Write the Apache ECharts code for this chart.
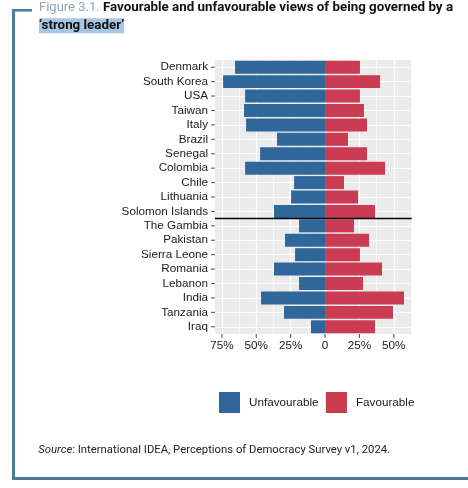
<!DOCTYPE html>
<html><head><meta charset="utf-8">
<script src="https://cdn.jsdelivr.net/npm/echarts@6/dist/echarts.min.js"></script>
<style>html,body{margin:0;padding:0;background:#fff}#c{width:468px;height:488px}</style>
</head><body><div id="c"></div>
<script>
const countries = ['Denmark','South Korea','USA','Taiwan','Italy','Brazil','Senegal','Colombia','Chile','Lithuania','Solomon Islands','The Gambia','Pakistan','Sierra Leone','Romania','Lebanon','India','Tanzania','Iraq'];
const unfavourable = [65.4, 74.1, 58.1, 58.9, 57.4, 34.9, 47.2, 58.1, 22.5, 24.7, 37.1, 18.9, 29.1, 21.8, 37.1, 18.9, 46.5, 29.8, 10.2];
const favourable = [25.4, 40.0, 25.4, 28.3, 30.5, 16.7, 30.5, 43.6, 13.8, 24.0, 36.3, 21.1, 32.0, 25.4, 41.4, 27.6, 57.4, 49.4, 36.3];
const xTicks = [-75, -50, -25, 0, 25, 50];
const xMinor = [-62.5, -37.5, -12.5, 12.5, 37.5, 62.5];
const xMin = -80, xMax = 63;
const splitAfter = 'Solomon Islands';
const seriesNames = ['Unfavourable', 'Favourable'];

const chart = echarts.init(document.getElementById('c'), null, {renderer: 'canvas'});
const LBL = 'Liberation Sans, Arial, sans-serif';
const ROB = 'Roboto, sans-serif';
const frameColor = '#4d7d96';
const tickColor = '#333333';

const gridLines = [];
xTicks.forEach(v => gridLines.push({xAxis: v, lineStyle: {width: 1.2}}));
xMinor.forEach(v => gridLines.push({xAxis: v, lineStyle: {width: 0.6}}));
countries.forEach((c, i) => gridLines.push({yAxis: i + 0.5, lineStyle: {width: 1.2}}));

const option = {
  animation: false,
  backgroundColor: '#fff',
  grid: {left: 215, right: 56.3, top: 60, height: 274, show: true, backgroundColor: '#ebebeb', borderWidth: 0},
  xAxis: [{
    type: 'value', min: xMin, max: xMax,
    axisLine: {show: false},
    splitLine: {show: false},
    axisTick: {show: false},
    axisLabel: {customValues: xTicks, margin: 6, fontFamily: LBL, fontSize: 11.7, color: '#1a1a1a',
      formatter: v => v === 0 ? '0' : Math.abs(v) + '%'}
  }],
  yAxis: [{
    type: 'category', data: countries, inverse: true,
    axisLine: {show: false},
    splitLine: {show: false},
    axisTick: {show: false},
    axisLabel: {interval: 0, margin: 7, fontFamily: LBL, fontSize: 11.7, color: '#1a1a1a'}
  }, {
    type: 'value', inverse: true, min: 0, max: countries.length, show: false
  }],
  legend: {
    data: seriesNames, left: 219, top: 392, padding: 0, itemWidth: 21, itemHeight: 21, itemGap: 7.4,
    icon: 'rect', selectedMode: false,
    textStyle: {fontFamily: LBL, fontSize: 11.7, color: '#1a1a1a', padding: [0, 0, 0, 4]}
  },
  series: [
    {
      name: 'grid', type: 'line', xAxisIndex: 0, yAxisIndex: 1, data: [], silent: true, z: 0,
      markLine: {silent: true, symbol: ['none', 'none'], z: 0, label: {show: false}, emphasis: {disabled: true},
        lineStyle: {color: '#ffffff', type: 'solid', width: 1.2}, data: gridLines}
    },
    {
      name: seriesNames[0], type: 'bar', data: unfavourable.map(v => -v), barWidth: '90%', barGap: '-100%',
      itemStyle: {color: '#30679a'}, z: 2
    },
    {
      name: seriesNames[1], type: 'bar', data: favourable, barWidth: '90%', barGap: '-100%',
      itemStyle: {color: '#cb3b52'}, z: 2
    },
    {
      name: 'sep', type: 'line', xAxisIndex: 0, yAxisIndex: 1, data: [], silent: true, z: 5,
      markLine: {silent: true, symbol: ['none', 'none'], z: 5, label: {show: false}, emphasis: {disabled: true},
        lineStyle: {color: '#000', type: 'solid', width: 1.4},
        data: [{yAxis: countries.indexOf(splitAfter) + 1}]}
    },
    {
      name: 'yticks', type: 'scatter', xAxisIndex: 0, yAxisIndex: 0, silent: true, clip: false, z: 3,
      symbol: 'rect', symbolSize: [4, 1.1], symbolOffset: [-2, 0],
      itemStyle: {color: tickColor}, emphasis: {disabled: true},
      data: countries.map(c => [xMin, c])
    },
    {
      name: 'xticks', type: 'scatter', xAxisIndex: 0, yAxisIndex: 1, silent: true, clip: false, z: 3,
      symbol: 'rect', symbolSize: [1.1, 4], symbolOffset: [0, 2],
      itemStyle: {color: tickColor}, emphasis: {disabled: true},
      data: xTicks.map(v => [v, countries.length])
    }
  ],
  graphic: [
    {type: 'rect', shape: {x: 12, y: 9, width: 3, height: 471}, style: {fill: frameColor}, silent: true},
    {type: 'rect', shape: {x: 12, y: 9, width: 20, height: 2.6}, style: {fill: frameColor}, silent: true},
    {type: 'rect', shape: {x: 12, y: 477, width: 456, height: 3}, style: {fill: frameColor}, silent: true},
    {type: 'text', left: 39, top: 1, style: {
      text: '{a|Figure 3.1. }{b|Favourable and unfavourable views of being governed by a}',
      rich: {
        a: {fontFamily: ROB, fontSize: 13, fill: '#8aa8c2', fontWeight: 'normal'},
        b: {fontFamily: ROB, fontSize: 13.35, fill: '#111', fontWeight: 'bold'}
      }}},
    {type: 'text', left: 39, top: 18.3, style: {
      text: '‘strong leader’', fontFamily: ROB, fontSize: 13.35, fontWeight: 'bold', fill: '#111',
      backgroundColor: '#a6c6e2', padding: [1, 0, 1, 0]}},
    {type: 'text', left: 38.3, top: 445, style: {
      text: '{i|Source}{n|: International IDEA, Perceptions of Democracy Survey v1, 2024.}',
      rich: {
        i: {fontFamily: ROB, fontSize: 11.3, fontStyle: 'italic', fill: '#222'},
        n: {fontFamily: ROB, fontSize: 11.3, fill: '#222'}
      }}}
  ]
};
chart.setOption(option);
</script>
</body></html>
